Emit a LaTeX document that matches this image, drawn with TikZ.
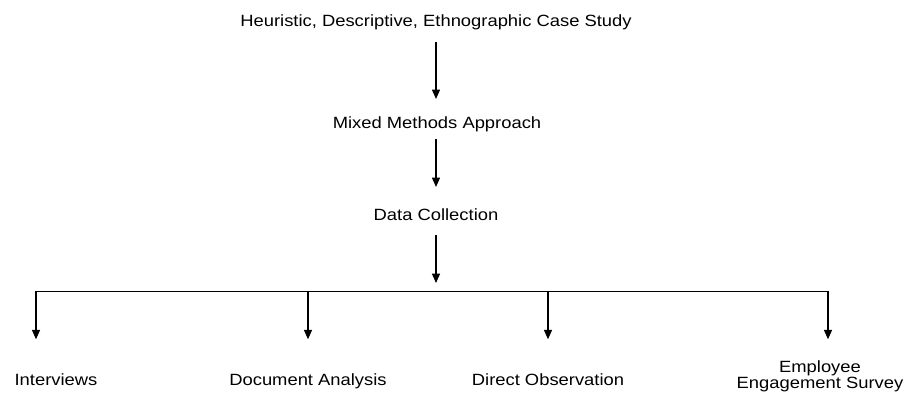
\documentclass[tikz,border=0pt]{standalone}
\usepackage{fontspec}
\setmainfont{Liberation Sans}[FakeStretch=1.13]
\usetikzlibrary{arrows.meta}
\tikzset{every node/.style={font=\fontsize{12.2pt}{12pt}\selectfont,inner sep=0pt,anchor=base},
         down/.style={draw,line width=0.9pt,-{Triangle[width=6pt,length=7pt]}},
         bar/.style={draw,line width=0.7pt}}
\begin{document}
\begin{tikzpicture}[x=0.75pt,y=-0.75pt]
      \useasboundingbox (0,0) rectangle (907,395);
      \node (study) at (436,27) {Heuristic, Descriptive, Ethnographic Case Study};
      \node (mixed) at (437,129) {Mixed Methods Approach};
      \node (data) at (436,221) {Data Collection};
      \node (interviews) at (56,386) {Interviews};
      \node (document) at (308,386) {Document Analysis};
      \node (observation) at (548,386) {Direct Observation};
      \node[align=center] (survey) at (820,388) {Employee\\Engagement Survey};
      \coordinate (hub) at (436,291);
      \coordinate (b1) at (36,291);
      \coordinate (b2) at (308,291);
      \coordinate (b3) at (548,291);
      \coordinate (b4) at (828,291);
      \draw[down,shorten <=8.7pt,shorten >=13.5pt] (hub |- study.south) -- (hub |- mixed.north);
      \draw[down,shorten <=5pt,shorten >=16.5pt] (hub |- mixed.south) -- (hub |- data.north);
      \draw[down,shorten <=10.5pt,shorten >=6pt] (data) -- (hub);
      \draw[bar] (b1) -- (b4);
      \draw[down,shorten >=26pt] (b1) -- (b1 |- interviews.north);
      \draw[down,shorten >=26pt] (b2) -- (b2 |- document.north);
      \draw[down,shorten >=26pt] (b3) -- (b3 |- observation.north);
      \draw[down,shorten >=15.5pt] (b4) -- (b4 |- survey.north);
\end{tikzpicture}
\end{document}
